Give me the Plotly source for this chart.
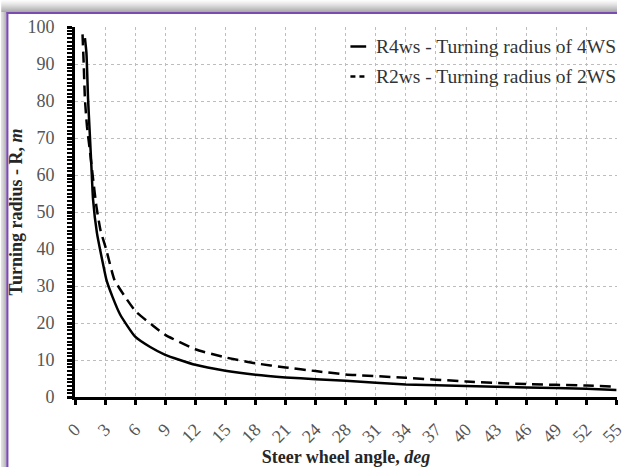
import plotly.graph_objects as go

# ---- data (x = position along the category axis, in tick-label steps) ----
tick_labels = ["0", "3", "6", "9", "12", "15", "18", "21", "24", "28",
               "31", "34", "37", "40", "43", "46", "49", "52", "55"]

r4ws_pos = [0.33, 0.38, 0.435, 0.49, 0.545, 0.60, 0.73, 0.93, 1.05, 1.25, 1.5,
            2.0, 2.5, 3.0, 4.0, 5.0, 6.0, 7.0, 8.0, 9.0, 11.0, 13.0, 15.0, 17.0, 18.0]
r4ws_val = [97, 93, 80.5, 71.4, 62.4, 53.4, 44.3, 36.0, 31.5, 27.0, 22.3,
            16.3, 13.5, 11.4, 8.7, 7.1, 6.0, 5.3, 4.8, 4.4, 3.4, 3.0, 2.6, 2.2, 1.9]

r2ws_pos = [0.25, 0.29, 0.33, 0.40, 0.49, 0.60, 0.71, 0.85, 1.04, 1.31, 1.58,
            2.02, 2.56, 3.0, 4.0, 5.0, 6.0, 7.0, 8.0, 9.0, 11.0, 13.0, 15.0, 17.0, 18.0]
r2ws_val = [98, 90, 80.5, 73, 66.9, 59, 51.6, 45, 39.8, 31.7, 28.1,
            23.1, 19.5, 16.8, 12.9, 10.7, 9.1, 8.0, 7.0, 6.1, 5.2, 4.2, 3.5, 3.1, 2.8]

series_names = ["R4ws - Turning radius of 4WS", "R2ws - Turning radius of 2WS"]

SERIF = "Liberation Serif"

fig = go.Figure()
fig.add_trace(go.Scatter(x=r4ws_pos, y=r4ws_val, mode="lines", name=series_names[0],
                         line=dict(color="black", width=2.5, shape="spline", smoothing=0.5),
                         showlegend=False))
fig.add_trace(go.Scatter(x=r2ws_pos, y=r2ws_val, mode="lines", name=series_names[1],
                         line=dict(color="black", width=2.5, dash="11px,6px",
                                   shape="spline", smoothing=0.5),
                         showlegend=False))

# plot area geometry (pixels) for paper-coordinate decorations
L, R, T, B = 75, 626, 27, 397
FW, FH = 626, 467
W, H = R - L, B - T
def px(x):
    return (x - L) / W
def py(y):
    return (B - y) / H

shapes = []
top_cols = ["#fbfbfb", "#f6f6f6", "#f0f0f0", "#eaeaea", "#e3e3e3", "#dcdcdc",
            "#d4d4d4", "#cccccc", "#c4c4c4", "#bcbcbc", "#b4b4b4", "#ababab"]
for i, c in enumerate(top_cols):
    shapes.append(dict(type="rect", xref="paper", yref="paper",
                       x0=px(0), x1=px(FW), y0=py(i), y1=py(i + 1),
                       fillcolor=c, line=dict(width=0), layer="above"))
left_cols = ["#d8d8d8", "#cfcfcf", "#c4c4c4", "#b8b8b8", "#acacac"]
for i, c in enumerate(left_cols):
    shapes.append(dict(type="rect", xref="paper", yref="paper",
                       x0=px(i), x1=px(i + 1), y0=py(12), y1=py(FH),
                       fillcolor=c, line=dict(width=0), layer="above"))
shapes.append(dict(type="line", xref="paper", yref="paper",
                   x0=px(5.5), x1=px(FW), y0=py(13), y1=py(13),
                   line=dict(color="#7a4bb0", width=2.2), layer="above"))
shapes.append(dict(type="line", xref="paper", yref="paper",
                   x0=px(6.2), x1=px(6.2), y0=py(12), y1=py(FH),
                   line=dict(color="#7a4bb0", width=2.2), layer="above"))
shapes.append(dict(type="line", xref="paper", yref="paper",
                   x0=px(355), x1=px(371), y0=py(46.5), y1=py(46.5),
                   line=dict(color="black", width=2.5), layer="above"))
shapes.append(dict(type="line", xref="paper", yref="paper",
                   x0=px(355), x1=px(373), y0=py(76.5), y1=py(76.5),
                   line=dict(color="black", width=2.5, dash="5px,4px"), layer="above"))

annotations = [
    dict(xref="paper", yref="paper", x=px(379), y=py(46), xanchor="left", yanchor="middle",
         text=series_names[0], showarrow=False,
         font=dict(family=SERIF, size=19.5, color="#333333")),
    dict(xref="paper", yref="paper", x=px(379), y=py(76), xanchor="left", yanchor="middle",
         text=series_names[1], showarrow=False,
         font=dict(family=SERIF, size=19.5, color="#333333")),
]

fig.update_layout(
    width=FW, height=FH,
    margin=dict(l=L, r=FW - R, t=T, b=FH - B, pad=0),
    paper_bgcolor="white", plot_bgcolor="white",
    font=dict(family=SERIF),
    shapes=shapes, annotations=annotations,
    showlegend=False,
    xaxis=dict(
        range=[0, 18.02],
        tickmode="array", tickvals=list(range(len(tick_labels))), ticktext=tick_labels,
        tickangle=-45,
        tickfont=dict(family=SERIF, size=18, color="#555555"),
        ticks="outside", ticklen=5, tickwidth=2.5, tickcolor="black",
        ticklabelstandoff=7, ticklabeloverflow="allow",
        showline=True, linecolor="black", linewidth=3,
        showgrid=True, gridcolor="#bdbdbd", griddash="dot", gridwidth=1,
        zeroline=False,
        title=dict(text="<b>Steer wheel angle, <i>deg</i></b>", standoff=3,
                   font=dict(family=SERIF, size=18, color="#262626")),
    ),
    yaxis=dict(
        range=[0, 100], dtick=10,
        tickfont=dict(family=SERIF, size=18, color="#555555"),
        ticks="outside", ticklen=5, tickwidth=2.5, tickcolor="black",
        ticklabelstandoff=9,
        minor=dict(dtick=1, ticks="outside", ticklen=5, tickwidth=2, tickcolor="black",
                   showgrid=False),
        showline=True, linecolor="black", linewidth=3,
        showgrid=True, gridcolor="#bdbdbd", griddash="dot", gridwidth=1,
        zeroline=False,
        title=dict(text="<b>Turning radius - R, <i>m</i></b>", standoff=1,
                   font=dict(family=SERIF, size=18, color="#262626")),
    ),
)

fig.write_html(
    "out.html",
    config={"displayModeBar": False},
    post_script="document.body.style.margin='0';document.body.style.overflow='hidden';"
                "document.documentElement.style.overflow='hidden';",
)
